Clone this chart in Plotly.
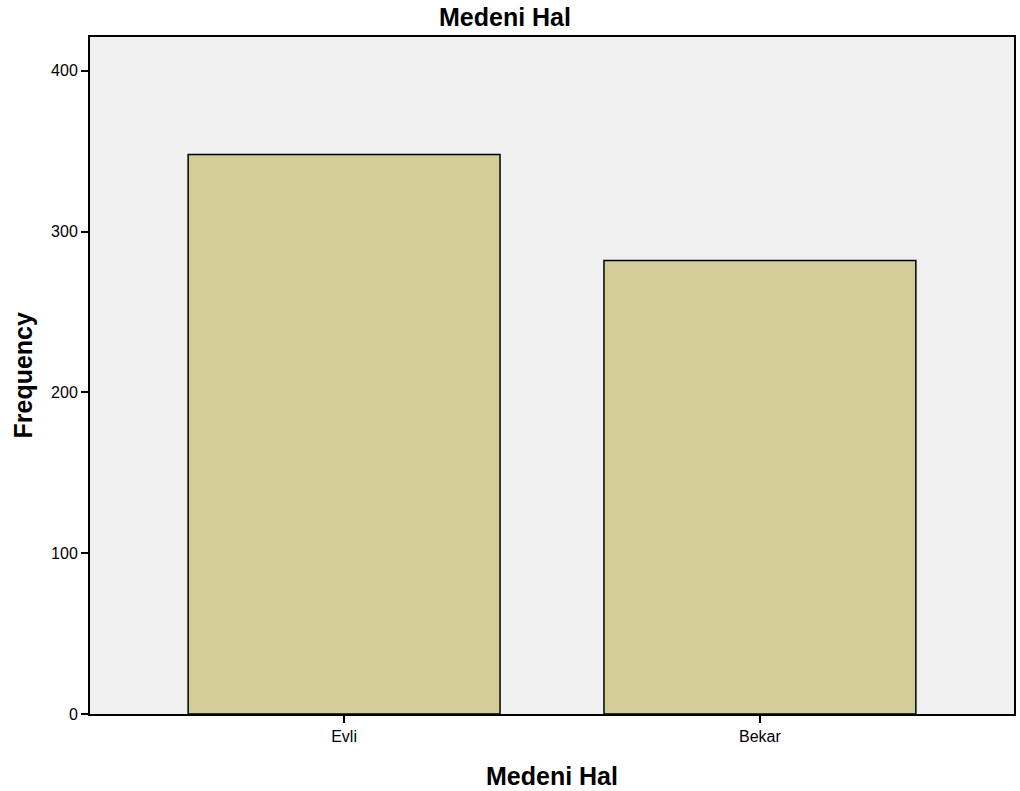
import plotly.graph_objects as go

categories = ["Evli", "Bekar"]
frequency = [348, 282]
y_ticks = [0, 100, 200, 300, 400]

fig = go.Figure()
fig.add_trace(go.Bar(
    x=[0, 1], y=frequency, width=0.75,
    marker=dict(color="#d3cd98", line=dict(color="black", width=1.5)),
    showlegend=False,
))

font = "Liberation Sans, Arial, sans-serif"
fig.update_layout(
    width=1020, height=791,
    margin=dict(l=90, r=6, t=37, b=77),
    paper_bgcolor="white", plot_bgcolor="#f0f0f0",
    font=dict(family=font, size=16, color="black"),
)
fig.update_xaxes(
    tickmode="array", tickvals=[0, 1], ticktext=categories,
    range=[-0.611, 1.611],
    showline=True, linecolor="black", linewidth=2, mirror=True,
    ticks="outside", ticklen=7, tickwidth=2, tickcolor="black",
    showgrid=False, zeroline=False, automargin=False,
    tickfont=dict(size=16),
)
fig.update_yaxes(
    tickmode="array", tickvals=y_ticks,
    range=[0, 421],
    showline=True, linecolor="black", linewidth=2, mirror=True,
    ticks="outside", ticklen=7, tickwidth=2, tickcolor="black",
    showgrid=False, zeroline=False, automargin=False,
    tickfont=dict(size=16),
)
fig.add_annotation(text="<b>Medeni Hal</b>", xref="paper", yref="paper",
                   x=(505 - 90) / 924, y=1 + 20 / 677, xanchor="center", yanchor="middle",
                   showarrow=False, borderpad=0, font=dict(size=25))
fig.add_annotation(text="<b>Medeni Hal</b>", xref="paper", yref="paper",
                   x=0.5, y=-62 / 677, xanchor="center", yanchor="middle",
                   showarrow=False, font=dict(size=25))
fig.add_annotation(text="<b>Frequency</b>", xref="paper", yref="paper",
                   x=(22 - 90) / 924, y=0.5, xanchor="center", yanchor="middle",
                   textangle=-90, showarrow=False, font=dict(size=25))

fig.write_html("out.html", config={"displayModeBar": False},
               post_script="document.body.style.margin='0';")
